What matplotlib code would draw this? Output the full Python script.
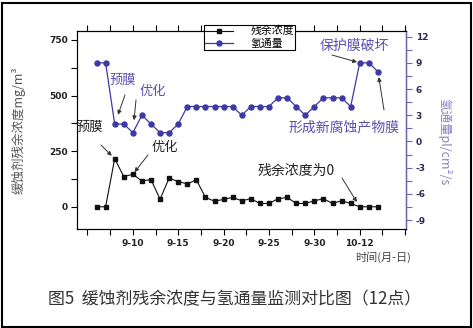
import matplotlib
matplotlib.use("Agg")
import matplotlib.pyplot as plt
from matplotlib.lines import Line2D
from matplotlib.patches import Rectangle

plt.rcParams['font.family'] = ['Noto Sans CJK SC', 'DejaVu Sans']

# 监测日期（9月的日序号，35以后对应10月）
days = list(range(6, 38))
# 缓蚀剂残余浓度 mg/m3
residual = [0, 0, 216, 136, 146, 116, 122, 34, 129, 113, 103, 121, 42, 25, 33, 42,
            27, 36, 15, 15, 36, 42, 15, 15, 27, 36, 15, 27, 15, 0, 0, 0]
# 氢通量 pl/cm2/s
hflux = [9, 9, 2, 2, 1, 3, 2, 1, 1, 2, 4, 4, 4, 4, 4, 4,
         3, 4, 4, 4, 5, 5, 4, 3, 4, 5, 5, 5, 4, 9, 9, 8]

xticks = [5, 10, 15, 20, 25, 30, 35, 40]
xticklabels = ['', '9-10', '9-15', '9-20', '9-25', '9-30', '10-12', '']

blue = '#3d3aa6'
blue_txt = '#5a4fb2'
axis_blue = '#6b66b5'

W, H = 473, 328
fig = plt.figure(figsize=(W / 100, H / 100), dpi=100)
ax = fig.add_axes([0.1638, 0.3018, 0.6946, 0.6037])
ax2 = ax.twinx()

ax.plot(days, residual, color='#111111', lw=0.8, marker='s', ms=3, zorder=3)
ax2.plot(days, hflux, color=blue, lw=0.9, marker='o', ms=3.6, zorder=3)

ax.set_xlim(3.9, 40.1)
ax.set_ylim(-100, 790)
ax2.set_ylim(-10.03, 12.65)

tick_font = dict(family='DejaVu Sans', weight='bold', size=6.5)
ax.set_xticks(xticks)
ax.set_xticklabels(xticklabels, **tick_font, color='#222222')
ax.set_xticks([7.5, 12.5, 17.5, 22.5, 27.5, 32.5, 37.5], minor=True)
ax.set_yticks([0, 250, 500, 750])
ax.set_yticklabels(['0', '250', '500', '750'], **tick_font, color='#222222')
ax.set_yticks([125, 375, 625], minor=True)
ax.tick_params(which='both', direction='out', length=4, width=0.8, top=True, pad=3)

ax2.set_yticks([-9, -6, -3, 0, 3, 6, 9, 12])
ax2.set_yticklabels(['-9', '-6', '-3', '0', '3', '6', '9', '12'], **tick_font)
ax2.set_yticks([-7.5, -4.5, -1.5, 1.5, 4.5, 7.5, 10.5], minor=True)
ax2.tick_params(which='both', direction='out', length=4, width=0.8, colors=axis_blue, pad=3)
for lab in ax2.get_yticklabels():
    lab.set_color('#2a2a55')
ax2.spines['right'].set_color(axis_blue)
ax2.spines['right'].set_linewidth(1.0)

ax.set_ylabel('缓蚀剂残余浓度mg/m³', fontsize=9, color='#555555')
ax.yaxis.set_label_coords(-0.157, 0.5)
ax2.set_ylabel('氢通量pl/cm²/s', fontsize=9, color='#8b80c8', rotation=270, va='center')
ax2.yaxis.set_label_coords(1.116, 0.44)

# 图例（跨在上边框上）
handles = [Line2D([], [], color='#111111', lw=0.8, marker='s', ms=3),
           Line2D([], [], color=blue, lw=0.9, marker='o', ms=3.6)]
leg = ax2.legend(handles, ['残余浓度', '氢通量'], loc='upper left',
                 bbox_to_anchor=(204 / W, 1 - 25 / H), bbox_transform=fig.transFigure,
                 fontsize=7.8, frameon=True, fancybox=False, edgecolor='black',
                 framealpha=1, handlelength=2.6, handletextpad=1.6, borderpad=0.1,
                 labelspacing=0.2, borderaxespad=0)
leg.get_frame().set_linewidth(0.8)
leg.set_zorder(10)

# 标注文字和箭头（figure pixels，原点在左下角）
arrow_kw = dict(arrowstyle='-|>', lw=0.7, mutation_scale=6, shrinkA=0)

ax2.annotate('', xy=(8, 2), xytext=(125, H - 95), textcoords='figure pixels',
             arrowprops=dict(color='#333333', shrinkB=7, **arrow_kw))
ax2.annotate('', xy=(10, 1), xytext=(136, H - 100), textcoords='figure pixels',
             arrowprops=dict(color='#333333', shrinkB=9, **arrow_kw))
ax.annotate('', xy=(8, 216), xytext=(101, H - 145), textcoords='figure pixels',
            arrowprops=dict(color='#333333', shrinkB=3, **arrow_kw))
ax.annotate('', xy=(10, 146), xytext=(148, H - 155), textcoords='figure pixels',
            arrowprops=dict(color='#333333', shrinkB=2, **arrow_kw))
ax2.annotate('', xy=(35, 9), xytext=(332, H - 55), textcoords='figure pixels',
             arrowprops=dict(color='#333333', shrinkB=2, **arrow_kw))
ax2.annotate('', xy=(37, 8), xytext=(384, H - 110), textcoords='figure pixels',
             arrowprops=dict(color='#333333', shrinkB=4, **arrow_kw))
ax.annotate('', xy=(35, 0), xytext=(342, H - 178), textcoords='figure pixels',
            arrowprops=dict(color='#333333', shrinkB=4, **arrow_kw))

def label(x, y, s, color, size):
    fig.text(x / W, 1 - y / H, s, color=color, fontsize=size, ha='center', va='center')

label(123, 80, '预膜', blue_txt, 9.5)
label(153, 91, '优化', blue_txt, 9.5)
label(90, 127, '预膜', '#222222', 9.5)
label(165, 148, '优化', '#222222', 9.5)
label(354, 46, '保护膜破坏', blue_txt, 10)
label(344, 127, '形成新腐蚀产物膜', blue_txt, 10)
label(296, 171, '残余浓度为0', '#222222', 10)
label(383, 257, '时间(月-日)', '#444444', 8)
label(235, 299, '图5  缓蚀剂残余浓度与氢通量监测对比图（12点）', '#333333', 12.2)

# 外框
fig.patches.append(Rectangle((1.5 / W, 1.5 / H), 1 - 4 / W, 1 - 4 / H,
                             transform=fig.transFigure, fill=False,
                             edgecolor='black', lw=1.5))

fig.savefig('out.png', dpi=100)
